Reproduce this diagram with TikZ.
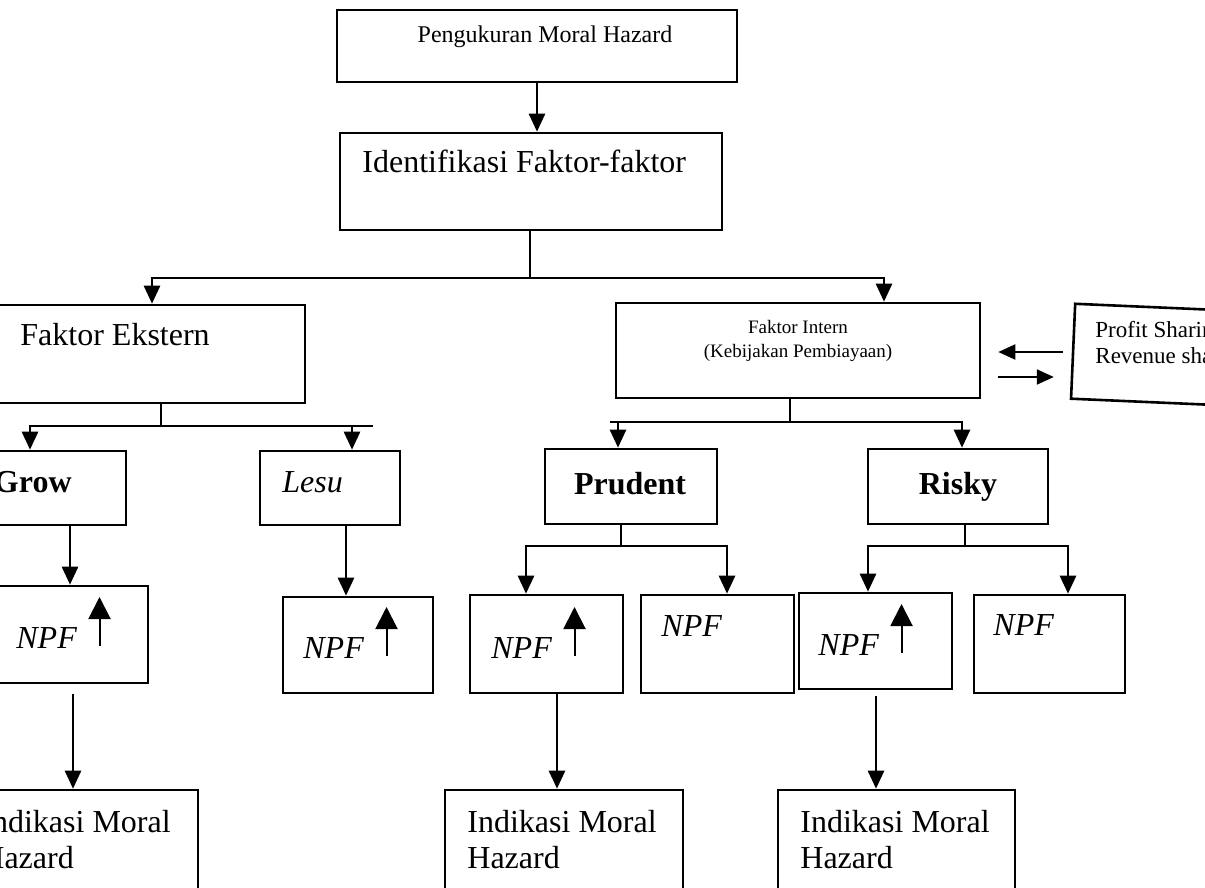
\documentclass[tikz,border=0pt]{standalone}
\usepackage{fontspec}
\setmainfont{Liberation Serif}
\usetikzlibrary{arrows.meta,fit}

\begin{document}
\begin{tikzpicture}[x=0.5pt,y=-0.5pt,
    box/.style={draw,line width=1.3pt,inner sep=0pt},
    line/.style={line width=1.3pt},
    arr/.style={line width=1.3pt,-{Triangle[width=8pt,length=9pt]}},
    sidearr/.style={line width=1pt,-{Triangle[width=7.5pt,length=8.5pt]}},
    uparr/.style={line width=1pt,-{Triangle[width=11pt,length=11pt]}},
    txt/.style={inner sep=0pt},
    big/.style={txt,font=\fontsize{16}{18}\selectfont}]
    \useasboundingbox (0,0) rectangle (1205,888);
    \clip (0,0) rectangle (1205,888);
    \fill[white] (0,0) rectangle (1205,888);

    %top boxes
    \node[box,fit={(337,10) (737,82)}] (peng) {};
    \node[txt,anchor=base,font=\fontsize{12}{14}\selectfont] (pengtxt) at (545,43) {Pengukuran Moral Hazard};
    \node[box,fit={(340,133) (722,230)}] (ident) {};
    \node[big,anchor=base west] (identtxt) at (362,172) {Identifikasi Faktor-faktor};

    %faktor boxes
    \node[box,fit={(-40,305) (305,403)}] (ekst) {};
    \node[big,anchor=base west] (eksttxt) at (20,345) {Faktor Ekstern};
    \node[box,fit={(616,303) (980,398)}] (intern) {};
    \node[txt,font=\fontsize{9.5}{12}\selectfont,align=center] (interntxt) at (798,341)
        {Faktor Intern\\(Kebijakan Pembiayaan)};
    \node[box,minimum width=109pt,minimum height=47.5pt,rotate=-2.5] (profit) at (1182,356) {};
    \node[txt,font=\fontsize{11.5}{13}\selectfont,anchor=base west] (profittxta) at (1095,337) {Profit Sharing};
    \node[txt,font=\fontsize{11.5}{13}\selectfont,anchor=base west] (profittxtb) at (1095,363) {Revenue sharing};

    %second level
    \node[box,fit={(-40,451) (126,525)}] (grow) {};
    \node[big,anchor=base east] (growtxt) at (72,492) {\textbf{Grow}};
    \node[box,fit={(260,451) (400,525)}] (lesu) {};
    \node[big,anchor=base west] (lesutxt) at (282,492) {\textit{Lesu}};
    \node[box,fit={(545,449) (717,524)}] (prud) {};
    \node[big,anchor=base] (prudtxt) at (630,494) {\textbf{Prudent}};
    \node[box,fit={(868,449) (1048,524)}] (risky) {};
    \node[big,anchor=base] (riskytxt) at (958,494) {\textbf{Risky}};

    %npf boxes
    \node[box,fit={(-9,586) (148,683)}] (npfa) {};
    \node[box,fit={(283,597) (433,693)}] (npfb) {};
    \node[box,fit={(470,595) (623,693)}] (npfc) {};
    \node[box,fit={(641,595) (794,693)}] (npfd) {};
    \node[box,fit={(799,593) (952,689)}] (npfe) {};
    \node[box,fit={(974,595) (1125,693)}] (npff) {};
    \node[big,anchor=base west] (npfatxt) at (16,648) {\textit{NPF}};
    \node[big,anchor=base west] (npfbtxt) at (303,658) {\textit{NPF}};
    \node[big,anchor=base west] (npfctxt) at (491,658) {\textit{NPF}};
    \node[big,anchor=base west] (npfdtxt) at (661,636) {\textit{NPF}};
    \node[big,anchor=base west] (npfetxt) at (818,655) {\textit{NPF}};
    \node[big,anchor=base west] (npfftxt) at (993,635) {\textit{NPF}};
    \foreach \n in {npfatxt,npfbtxt,npfctxt,npfetxt}
        \draw[uparr] ([xshift=11pt,yshift=1pt]\n.base east) -- ++(0,-49);

    %indikasi boxes
    \node[box,fit={(-40,790) (198,900)}] (inda) {};
    \node[box,fit={(445,790) (683,900)}] (indb) {};
    \node[box,fit={(778,790) (1015,900)}] (indc) {};
    \node[big,align=left,anchor=west] (indatxt) at (-19,840) {Indikasi Moral\\Hazard};
    \node[big,align=left,anchor=west] (indbtxt) at (467,840) {Indikasi Moral\\Hazard};
    \node[big,align=left,anchor=west] (indctxt) at (800,840) {Indikasi Moral\\Hazard};

    %connectors
    \coordinate (vt) at (537,0);
    \draw[arr] (peng.south -| vt) -- (ident.north -| vt);
    \coordinate (ta) at (530,278);
    \coordinate (tal) at (152,278);
    \coordinate (tar) at (884,278);
    \draw[arr] (ident.south -| ta) -- (ta) -| (tal |- ekst.north);
    \draw[arr] (ta) -| (tar |- intern.north);

    \coordinate (tb) at (161,426);
    \coordinate (tbl) at (30,426);
    \coordinate (tbr) at (352,426);
    \coordinate (tbe) at (373,426);
    \draw[arr] (ekst.south -| tb) -- (tb) -| (tbl |- grow.north);
    \draw[arr] (tb) -| (tbr |- lesu.north);
    \draw[line] (tbr) -- (tbe);

    \coordinate (tc) at (790,422);
    \coordinate (tcl) at (618,422);
    \coordinate (tcr) at (962,422);
    \coordinate (tce) at (610,422);
    \draw[arr] (intern.south -| tc) -- (tc) -| (tcl |- prud.north);
    \draw[arr] (tc) -| (tcr |- risky.north);
    \draw[line] (tcl) -- (tce);

    \coordinate (td) at (621,546);
    \coordinate (tdl) at (526,546);
    \coordinate (tdr) at (727,546);
    \draw[arr] (prud.south -| td) -- (td) -| (tdl |- npfc.north);
    \draw[arr] (td) -| (tdr |- npfd.north);

    \coordinate (te) at (965,546);
    \coordinate (tel) at (868,546);
    \coordinate (ter) at (1068,546);
    \draw[arr] (risky.south -| te) -- (te) -| (tel |- npfe.north);
    \draw[arr] (te) -| (ter |- npff.north);

    \coordinate (va) at (70,0);
    \coordinate (vb) at (346,0);
    \draw[arr] (grow.south -| va) -- (npfa.north -| va);
    \draw[arr] (lesu.south -| vb) -- (npfb.north -| vb);

    \coordinate (wa) at (73,0);
    \coordinate (wb) at (557,0);
    \coordinate (wc) at (876,0);
    \draw[arr,shorten <=5pt] (npfa.south -| wa) -- (inda.north -| wa);
    \draw[arr] (npfc.south -| wb) -- (indb.north -| wb);
    \draw[arr,shorten <=3pt] (npfe.south -| wc) -- (indc.north -| wc);

    %profit sharing arrows
    \coordinate (sa) at (0,352);
    \coordinate (sb) at (0,377);
    \draw[sidearr,shorten <=4.5pt,shorten >=8.5pt] (profit.west |- sa) -- (intern.east |- sa);
    \draw[sidearr,shorten <=8.5pt,shorten >=9pt] (intern.east |- sb) -- (profit.west |- sb);
\end{tikzpicture}
\end{document}
